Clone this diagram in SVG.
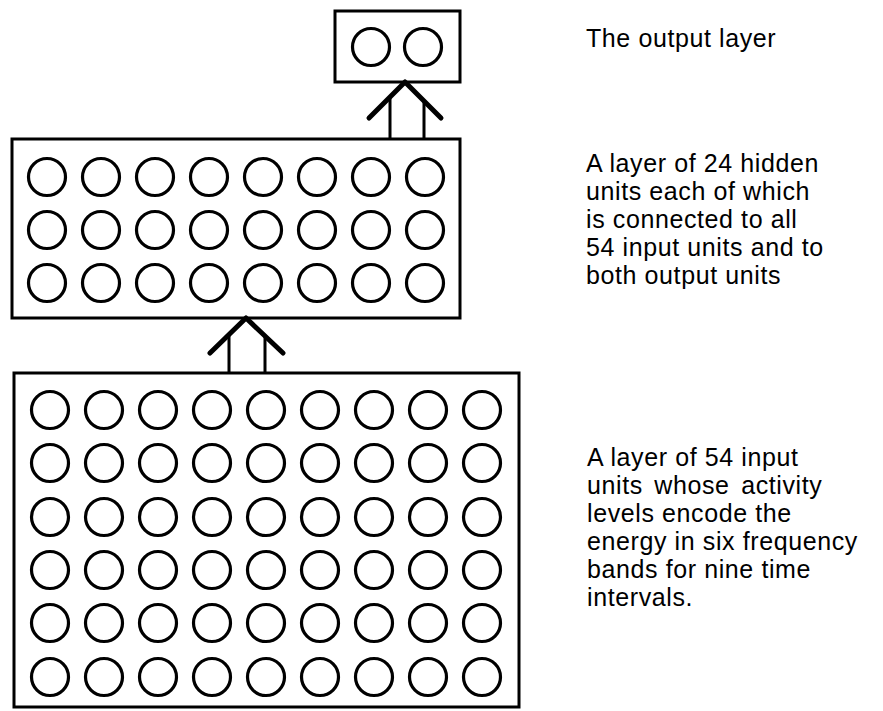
<svg xmlns="http://www.w3.org/2000/svg" width="883" height="711" viewBox="0 0 883 711">
<style>
.box{fill:none;stroke:#000;stroke-width:3}
.u{fill:none;stroke:#000;stroke-width:3.2}
.arm{fill:none;stroke:#000;stroke-width:5;stroke-linecap:round;stroke-linejoin:round}
.leg{fill:none;stroke:#000;stroke-width:3}
.t{font-family:"Liberation Sans",Arial,sans-serif;font-size:25px;letter-spacing:0.6px;fill:#000}
</style>
<defs>
<circle id="c" r="18.5" class="u"/>
<g id="row8">
<use href="#c" x="0"/><use href="#c" x="54"/><use href="#c" x="108"/><use href="#c" x="162"/><use href="#c" x="216"/><use href="#c" x="270"/><use href="#c" x="324"/><use href="#c" x="378"/>
</g>
<g id="row9">
<use href="#row8"/><use href="#c" x="432"/>
</g>
</defs>
<rect width="883" height="711" fill="#fff"/>
<g id="output-layer">
<rect class="box" x="335" y="11" width="125" height="71"/>
<use href="#c" x="371" y="47"/>
<use href="#c" x="423" y="47"/>
</g>
<g id="hidden-layer">
<rect class="box" x="12" y="139" width="448" height="179"/>
<use href="#row8" x="47" y="177"/>
<use href="#row8" x="47" y="230"/>
<use href="#row8" x="47" y="283"/>
</g>
<g id="input-layer">
<rect class="box" x="14" y="373" width="505" height="334"/>
<use href="#row9" x="50" y="410"/>
<use href="#row9" x="50" y="463"/>
<use href="#row9" x="50" y="517"/>
<use href="#row9" x="50" y="570"/>
<use href="#row9" x="50" y="623"/>
<use href="#row9" x="50" y="677"/>
</g>
<g id="connectors">
<path class="arm" d="M369,118 L405,82 L441,118"/>
<path class="leg" d="M390,97 V139 M424,101 V139"/>
<path class="arm" d="M210,353 L246,318 L283,353"/>
<path class="leg" d="M229,335 V373 M265,337 V373"/>
</g>
<g id="labels">
<text class="t" x="586" y="47">The output layer</text>
<text class="t" x="586" y="172">A layer of 24 hidden</text>
<text class="t" x="586" y="200">units each of which</text>
<text class="t" x="586" y="228">is connected to all</text>
<text class="t" x="586" y="256">54 input units and to</text>
<text class="t" x="586" y="284">both output units</text>
<text class="t" x="587" y="466">A layer of 54 input</text>
<text class="t" x="587" y="494" word-spacing="4">units whose activity</text>
<text class="t" x="587" y="522">levels encode the</text>
<text class="t" x="587" y="550">energy in six frequency</text>
<text class="t" x="587" y="578">bands for nine time</text>
<text class="t" x="587" y="606">intervals.</text>
</g>
</svg>
